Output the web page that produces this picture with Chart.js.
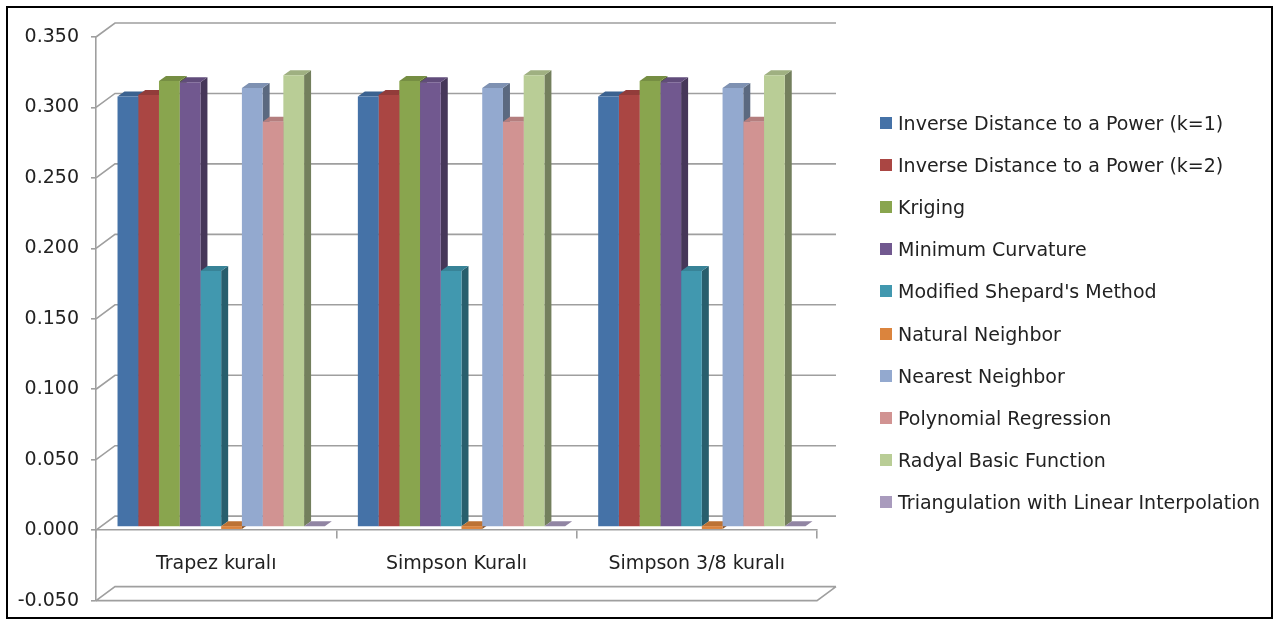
<!DOCTYPE html>
<html>
<head>
<meta charset="utf-8">
<script src="https://cdn.jsdelivr.net/npm/chart.js@4/dist/chart.umd.min.js"></script>
<style>
  html, body { margin: 0; padding: 0; background: #fff; }
  #wrap { position: relative; width: 1279px; height: 624px; overflow: hidden; }
  #c { position: absolute; left: 0; top: 0; }
  #legend { position: absolute; left: 880px; top: 0; font-family: "DejaVu Sans", sans-serif; font-size: 19px; color: #222; }
  #legend .row { position: absolute; left: 0; height: 22px; display: flex; align-items: center; white-space: nowrap; }
  #legend .sw { display: inline-block; width: 12px; height: 12px; margin-right: 6px; flex: none; }
</style>
</head>
<body>
<div id="wrap">
  <canvas id="c" width="1279" height="624"></canvas>
  <div id="legend"></div>
</div>
<script>
// Categories (integration rules)
const categories = ['Trapez kuralı', 'Simpson Kuralı', 'Simpson 3/8 kuralı'];

// Interpolation methods
const seriesNames = [
  'Inverse Distance to a Power (k=1)',
  'Inverse Distance to a Power (k=2)',
  'Kriging',
  'Minimum Curvature',
  "Modified Shepard's Method",
  'Natural Neighbor',
  'Nearest Neighbor',
  'Polynomial Regression',
  'Radyal Basic Function',
  'Triangulation with Linear Interpolation'
];

// Values per method, one per category
const idwK1       = [0.305, 0.305, 0.305];
const idwK2       = [0.306, 0.306, 0.306];
const kriging     = [0.316, 0.316, 0.316];
const minCurv     = [0.315, 0.315, 0.315];
const modShepard  = [0.181, 0.181, 0.181];
const natNeighbor = [-0.002, -0.002, -0.002];
const nearNeighbor= [0.311, 0.311, 0.311];
const polyReg     = [0.287, 0.287, 0.287];
const radialBasis = [0.320, 0.320, 0.320];
const triLinear   = [0.000, 0.000, 0.000];

const seriesValues = [idwK1, idwK2, kriging, minCurv, modShepard, natNeighbor, nearNeighbor, polyReg, radialBasis, triLinear];

// Value axis
const yMin = -0.05;
const yMax = 0.35;
const yStep = 0.05;

// Palette
const faceColors = ['#4572A7', '#AA4643', '#89A54E', '#71588F', '#4198AF', '#DB843D', '#93A9CF', '#D19392', '#B9CD96', '#A99BBD'];

function shade(hex, f) {
  const n = parseInt(hex.slice(1), 16);
  const r = Math.round(((n >> 16) & 255) * f);
  const g = Math.round(((n >> 8) & 255) * f);
  const b = Math.round((n & 255) * f);
  return 'rgb(' + r + ',' + g + ',' + b + ')';
}
const topColors = faceColors.map(c => shade(c, 0.86));
const sideColors = faceColors.map(c => shade(c, 0.62));

const GRID = '#9f9f9f';
const FONT = { family: '"DejaVu Sans", sans-serif', size: 19 };

// Pseudo-3D geometry
const WALL = { dx: 19, dy: 14 };     // front plane -> back wall
const BAR_SHIFT = { dx: 5, dy: 4 };  // bars sit slightly behind the front plane
const BAR_DEPTH = { dx: 7, dy: 5 };  // visible depth of each column

const depthPlugin = {
  id: 'depth3d',
  beforeDatasetsDraw(chart) {
    const { ctx, chartArea: a, scales: { y } } = chart;
    // back wall gridlines with their left-wall diagonals
    ctx.save();
    ctx.strokeStyle = GRID;
    ctx.lineWidth = 1.6;
    y.ticks.forEach((t, i) => {
      const yf = y.getPixelForValue(t.value);
      const yb = yf - WALL.dy;
      ctx.beginPath();
      ctx.moveTo(a.left, yf);
      ctx.lineTo(a.left + WALL.dx, yb);
      ctx.lineTo(a.right + WALL.dx, yb);
      if (i === 0) {
        ctx.moveTo(a.left, yf);
        ctx.lineTo(a.right, yf);
        ctx.lineTo(a.right + WALL.dx, yb);
      }
      ctx.stroke();
    });
    ctx.restore();

    // column sides and tops, left to right; the fronts are drawn by the bar controller
    ctx.save();
    ctx.translate(BAR_SHIFT.dx, -BAR_SHIFT.dy);
    chart.data.datasets.forEach((ds, i) => {
      const meta = chart.getDatasetMeta(i);
      meta.data.forEach(bar => {
        const p = bar.getProps(['x', 'y', 'base', 'width'], true);
        const l = p.x - p.width / 2, r = p.x + p.width / 2;
        const top = Math.min(p.y, p.base), bottom = Math.max(p.y, p.base);
        ctx.fillStyle = sideColors[i];
        ctx.beginPath();
        ctx.moveTo(r, top);
        ctx.lineTo(r + BAR_DEPTH.dx, top - BAR_DEPTH.dy);
        ctx.lineTo(r + BAR_DEPTH.dx, bottom - BAR_DEPTH.dy);
        ctx.lineTo(r, bottom);
        ctx.closePath();
        ctx.fill();
        ctx.fillStyle = topColors[i];
        ctx.beginPath();
        ctx.moveTo(l, top);
        ctx.lineTo(r, top);
        ctx.lineTo(r + BAR_DEPTH.dx, top - BAR_DEPTH.dy);
        ctx.lineTo(l + BAR_DEPTH.dx, top - BAR_DEPTH.dy);
        ctx.closePath();
        ctx.fill();
      });
    });
  },
  afterDatasetsDraw(chart) {
    chart.ctx.restore();
  },
  afterDraw(chart) {
    const ctx = chart.ctx;
    ctx.save();
    ctx.strokeStyle = '#000';
    ctx.lineWidth = 2;
    ctx.strokeRect(7, 7, 1265, 611);
    ctx.restore();
  }
};

const htmlLegend = {
  id: 'htmlLegend',
  afterUpdate(chart) {
    const box = document.getElementById('legend');
    box.innerHTML = '';
    const firstCenter = 123, step = 42.1;
    chart.data.datasets.forEach((ds, i) => {
      const row = document.createElement('div');
      row.className = 'row';
      row.style.top = (firstCenter + i * step - 11) + 'px';
      const sw = document.createElement('span');
      sw.className = 'sw';
      sw.style.background = ds.backgroundColor;
      const tx = document.createElement('span');
      tx.textContent = ds.label;
      row.append(sw, tx);
      box.append(row);
    });
  }
};

const datasets = seriesNames.map((name, i) => ({
  label: name,
  data: seriesValues[i],
  backgroundColor: faceColors[i],
  borderWidth: 0,
  categoryPercentage: 0.8625,
  barPercentage: 1.0,
  clip: false
}));

new Chart(document.getElementById('c'), {
  type: 'bar',
  data: { labels: categories, datasets },
  plugins: [depthPlugin, htmlLegend],
  options: {
    responsive: false,
    animation: false,
    devicePixelRatio: 1,
    layout: { padding: { left: 0, top: 37, right: 462, bottom: 20 } },
    plugins: { legend: { display: false }, tooltip: { enabled: false } },
    scales: {
      x: {
        position: { y: 0 },
        grid: { drawOnChartArea: false, offset: true, tickLength: 8, color: GRID, lineWidth: 1.6 },
        border: { color: GRID, width: 1.6 },
        ticks: { padding: 15, color: '#222', font: FONT, maxRotation: 0 },
        afterFit(s) { s.height = 0; }
      },
      y: {
        min: yMin,
        max: yMax,
        ticks: {
          stepSize: yStep,
          padding: 12,
          color: '#222',
          font: FONT,
          callback: v => (Math.abs(v) < 1e-9 ? 0 : Number(v)).toFixed(3)
        },
        grid: { drawOnChartArea: false, tickLength: 5, color: GRID, lineWidth: 1.6 },
        border: { color: GRID, width: 1.6 },
        afterFit(s) { s.width = 96; }
      }
    }
  }
});
</script>
</body>
</html>
